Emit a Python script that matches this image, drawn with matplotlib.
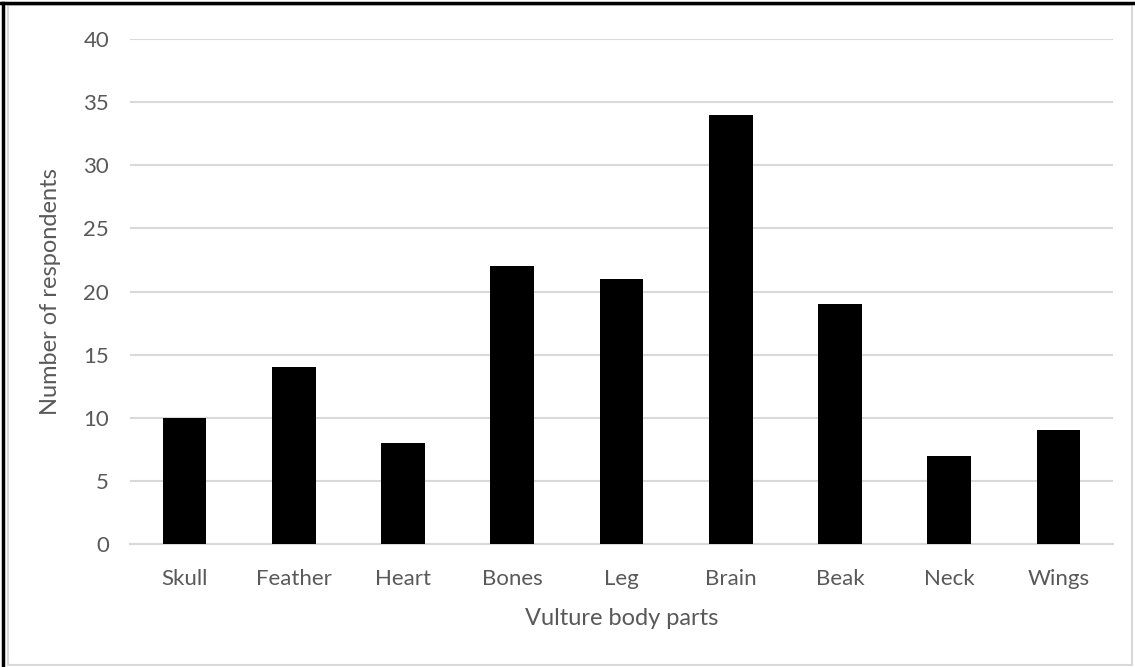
import matplotlib.pyplot as plt
from matplotlib.patches import Rectangle

# data
parts = ["Skull", "Feather", "Heart", "Bones", "Leg", "Brain", "Beak", "Neck", "Wings"]
respondents = [10, 14, 8, 22, 21, 34, 19, 7, 9]
yticks = [0, 5, 10, 15, 20, 25, 30, 35, 40]

plt.rcParams["font.family"] = ["Lato", "DejaVu Sans"]
text_color = "#595959"
grid_color = "#d9d9d9"

fig = plt.figure(figsize=(11.35, 6.67), dpi=100)
ax = fig.add_axes([0.1145, 0.1844, 0.8661, 0.7571])

x = range(len(parts))
ax.bar(x, respondents, width=0.4, color="black", zorder=3)

ax.set_xlim(-0.5, len(parts) - 0.5)
ax.set_ylim(0, 40)
ax.set_yticks(yticks)
ax.set_xticks(list(x))
ax.set_xticklabels(parts)
ax.yaxis.grid(True, color=grid_color, linewidth=1.5, zorder=0)
ax.tick_params(axis="both", length=0, labelsize=16, labelcolor=text_color)
ax.tick_params(axis="y", pad=15)
ax.tick_params(axis="x", pad=18)
for s in ["top", "right", "left"]:
    ax.spines[s].set_visible(False)
ax.spines["bottom"].set_color(grid_color)
ax.spines["bottom"].set_linewidth(1.5)

ax.set_xlabel("Vulture body parts", fontsize=17, color=text_color, labelpad=14)
ax.set_ylabel("Number of respondents", fontsize=17, color=text_color, labelpad=16)

# outer frame: gray chart border with black edge on left/top
fig.patches.append(Rectangle((0.007, 0.003), 0.99, 0.99, transform=fig.transFigure,
                             fill=False, edgecolor=grid_color, linewidth=1.5))
fig.add_artist(plt.Line2D([0.003, 0.003], [0, 0.996], color="black", linewidth=2.5, transform=fig.transFigure))
fig.add_artist(plt.Line2D([0, 1], [0.996, 0.996], color="black", linewidth=2.5, transform=fig.transFigure))

fig.savefig("out.png", dpi=100)
